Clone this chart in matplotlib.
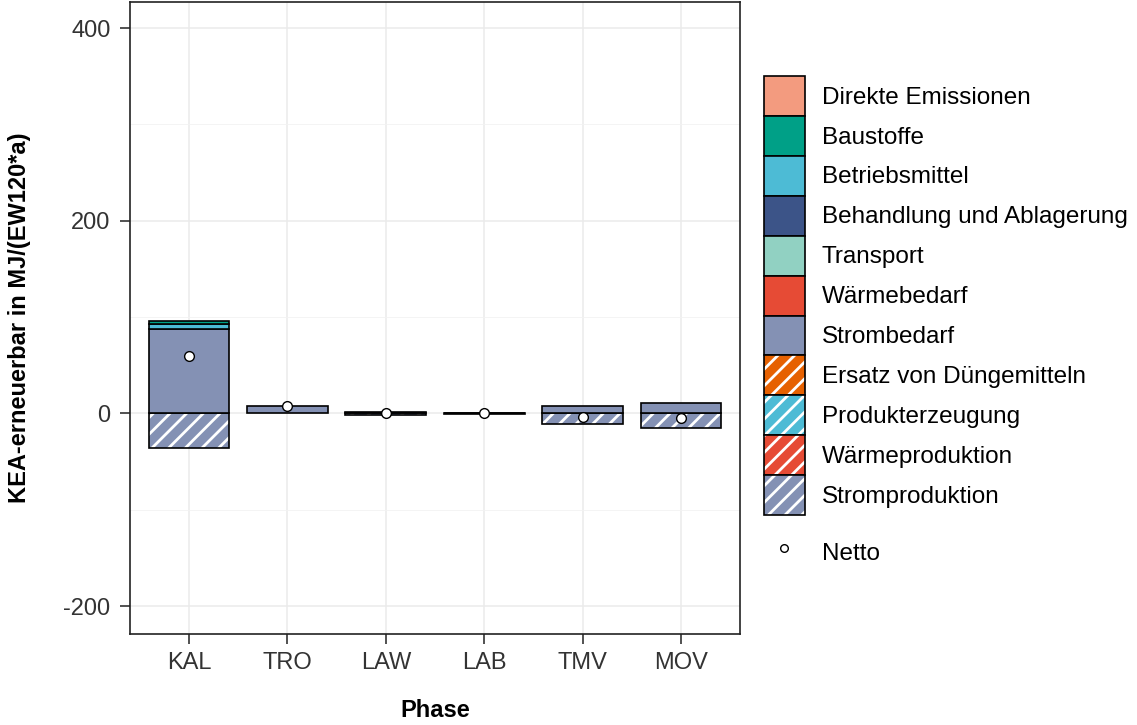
import matplotlib
matplotlib.use("Agg")
import matplotlib.pyplot as plt
import numpy as np
from matplotlib.patches import Patch
from matplotlib.lines import Line2D

plt.rcParams['font.family'] = ['Liberation Sans', 'DejaVu Sans']
plt.rcParams['axes.unicode_minus'] = False
plt.rcParams['hatch.linewidth'] = 2.0

# Daten
phasen = ['KAL', 'TRO', 'LAW', 'LAB', 'TMV', 'MOV']
kategorien = ['Direkte Emissionen', 'Baustoffe', 'Betriebsmittel',
              'Behandlung und Ablagerung', 'Transport', 'Wärmebedarf',
              'Strombedarf', 'Ersatz von Düngemitteln', 'Produkterzeugung',
              'Wärmeproduktion', 'Stromproduktion']
farben = ['#F39B7F', '#00A087', '#4DBBD5', '#3C5488', '#91D1C2', '#E64B35',
          '#8491B4', '#E66101', '#4DBBD5', '#E64B35', '#8491B4']
gutschrift = [False] * 7 + [True] * 4

direkte = [0, 0, 0, 0, 0, 0]
baustoffe = [3, 0, 0, 0, 0, 0]
betriebsmittel = [5, 0, 0, 0, 0, 0]
behandlung = [0, 0, 0, 0, 0, 0]
transport = [0, 0, 0, 0, 0, 0]
waermebedarf = [0, 0, 0, 0, 0, 0]
strombedarf = [88, 7.5, 1.2, 0.6, 7.3, 10.4]
duenger = [0, 0, 0, 0, 0, 0]
produkte = [0, 0, 0, 0, 0, 0]
waermeprod = [0, 0, 0, 0, 0, 0]
stromprod = [-36, 0, -1.2, -0.6, -11.4, -15.3]

werte = [direkte, baustoffe, betriebsmittel, behandlung, transport,
         waermebedarf, strombedarf, duenger, produkte, waermeprod, stromprod]

fig = plt.figure(figsize=(11.37, 7.25), dpi=100)
ax = fig.add_axes([130 / 1137, 1 - 634 / 725, 610 / 1137, 632 / 725])

x = np.arange(len(phasen))
breite = 0.82
pos_bottom = np.zeros(len(phasen))
neg_bottom = np.zeros(len(phasen))

# ggplot stapelt die erste Kategorie oben -> umgekehrte Reihenfolge
for i in reversed(range(len(kategorien))):
    vals = np.array(werte[i], dtype=float)
    pos = np.where(vals > 0, vals, 0)
    neg = np.where(vals < 0, vals, 0)
    for v, bot in [(pos, pos_bottom), (neg, neg_bottom)]:
        mask = v != 0
        if not mask.any():
            continue
        if gutschrift[i]:
            ax.bar(x[mask], v[mask], breite, bottom=bot[mask], color=farben[i],
                   edgecolor='white', linewidth=0, hatch='//', zorder=2)
            ax.bar(x[mask], v[mask], breite, bottom=bot[mask], fill=False,
                   edgecolor='black', linewidth=1.2, zorder=3)
        else:
            ax.bar(x[mask], v[mask], breite, bottom=bot[mask], color=farben[i],
                   edgecolor='black', linewidth=1.2, zorder=3)
    pos_bottom += pos
    neg_bottom += neg

netto = np.sum(np.array(werte, dtype=float), axis=0)
ax.plot(x, netto, 'o', color='white', markeredgecolor='black',
        markersize=7, markeredgewidth=1, zorder=5)

ax.set_xlim(-0.6, 5.6)
ax.set_ylim(-229, 427)
ax.set_yticks([-200, 0, 200, 400])
ax.set_yticks([-100, 100, 300], minor=True)
ax.set_xticks(x)
ax.set_xticklabels(phasen)
ax.grid(True, which='major', color='#EBEBEB', linewidth=1.1, zorder=0)
ax.grid(True, which='minor', axis='y', color='#F2F2F2', linewidth=0.6, zorder=0)
ax.set_axisbelow(True)
ax.tick_params(which='major', labelsize=17, labelcolor='#333333',
               color='#222222', length=7, width=1.1)
ax.tick_params(axis='y', pad=7)
ax.tick_params(axis='x', pad=6)
ax.tick_params(which='minor', length=0)
for s in ax.spines.values():
    s.set_color('#222222')
    s.set_linewidth(1.2)

ax.set_xlabel('Phase', fontsize=17, fontweight='bold')
ax.xaxis.set_label_coords(0.5, -(699 - 634) / 632)
ax.set_ylabel('KEA-erneuerbar in MJ/(EW120*a)', fontsize=17, fontweight='bold')
ax.yaxis.set_label_coords(-(130 - 31) / 610, 0.5)

# Legende
handles = []
for i, k in enumerate(kategorien):
    if gutschrift[i]:
        h = (Patch(facecolor=farben[i], edgecolor='white', linewidth=0, hatch='//'),
             Patch(fill=False, edgecolor='black', linewidth=1.2))
    else:
        h = Patch(facecolor=farben[i], edgecolor='black', linewidth=1.2)
    handles.append(h)

fs = 17.5
leg1 = fig.legend(handles, kategorien, loc='upper left',
                  bbox_to_anchor=(764 / 1137, 1 - 76 / 725), frameon=False,
                  fontsize=fs, handlelength=29.5 / fs, handleheight=2.15,
                  labelspacing=0, handletextpad=12 / fs, borderpad=0,
                  borderaxespad=0)
netto_handle = Line2D([], [], marker='o', linestyle='none', color='white',
                      markeredgecolor='black', markersize=5.5)
leg2 = fig.legend([netto_handle], ['Netto'], loc='upper left',
                  bbox_to_anchor=(764 / 1137, 1 - 537 / 725), frameon=False,
                  fontsize=fs, handlelength=29.5 / fs, handleheight=1.5,
                  handletextpad=12 / fs, borderpad=0, borderaxespad=0)

fig.savefig('out.png', dpi=100)
